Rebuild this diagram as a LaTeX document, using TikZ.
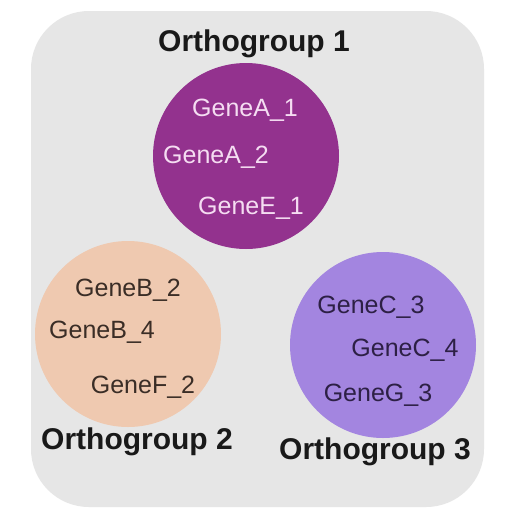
\documentclass[tikz,border=0pt]{standalone}
\usepackage{fontspec}
\setmainfont{Liberation Sans}
\definecolor{bgc}{HTML}{E6E6E6}
\definecolor{og1}{HTML}{93328E}
\definecolor{og2}{HTML}{EFC9B0}
\definecolor{og3}{HTML}{A385E0}
\definecolor{t1}{HTML}{F5DDF2}
\definecolor{t2}{HTML}{3A2D26}
\definecolor{t3}{HTML}{2D2045}
\tikzset{
  blob/.style={circle, minimum size=186pt, inner sep=0pt, draw=none},
  gene/.style={font=\fontsize{25}{28}\selectfont, inner sep=0pt},
  title/.style={font=\fontsize{30}{34}\selectfont\bfseries, inner sep=0pt, text=black!90}
}
\begin{document}
\begin{tikzpicture}[x=1pt,y=-1pt]
\useasboundingbox (0,0) rectangle (506,528);
\fill[white] (0,0) rectangle (506,528);
\node[fill=bgc, rounded corners=58pt, minimum width=453pt, minimum height=496pt, inner sep=0pt] (bg) at (257.5,259) {};
\node[blob, fill=og1] (c1) at (246,156) {};
\node[blob, fill=og2] (c2) at (128,334) {};
\node[blob, fill=og3] (c3) at (383,345) {};
\node[title] (o1) at (254,44) {Orthogroup 1};
\node[title] (o2) at (137,442) {Orthogroup 2};
\node[title] (o3) at (375,452) {Orthogroup 3};
\node[gene, text=t1] (a1) at (245,110) {GeneA\_1};
\node[gene, text=t1] (a2) at (216,157) {GeneA\_2};
\node[gene, text=t1] (e1) at (251,208) {GeneE\_1};
\node[gene, text=t2] (b2) at (128,290) {GeneB\_2};
\node[gene, text=t2] (b4) at (102,332) {GeneB\_4};
\node[gene, text=t2] (f2) at (143,387) {GeneF\_2};
\node[gene, text=t3] (c3a) at (371,307) {GeneC\_3};
\node[gene, text=t3] (c4) at (405,350) {GeneC\_4};
\node[gene, text=t3] (g3) at (378,395) {GeneG\_3};
\end{tikzpicture}
\end{document}
